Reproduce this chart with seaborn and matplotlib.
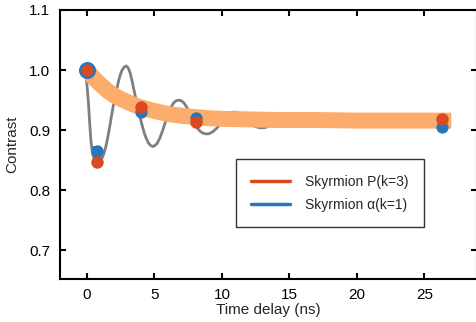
import matplotlib
matplotlib.use("Agg")
import matplotlib.pyplot as plt
from matplotlib.lines import Line2D
import seaborn as sns
import pandas as pd

# ---- data ----
fit_t = [-0.2, -0.1, 0.0, 0.1, 0.2, 0.3, 0.4, 0.5, 0.65, 0.8, 0.95, 1.1, 1.25, 1.4,
         1.55, 1.7, 1.85, 2.0, 2.15, 2.3, 2.45, 2.6, 2.75, 2.9, 3.05, 3.2, 3.35, 3.5,
         3.65, 3.8, 3.95, 4.1, 4.25, 4.4, 4.55, 4.7, 4.85, 5.0, 5.2, 5.4, 5.6, 5.8,
         6.0, 6.2, 6.4, 6.6, 6.8, 7.0, 7.2, 7.4, 7.6, 7.8, 8.0, 8.2, 8.4, 8.6, 8.8,
         9.0, 9.3, 9.6, 9.9, 10.2, 10.5, 10.8, 11.0, 11.3, 11.6, 11.9, 12.2, 12.5,
         12.8, 13.1, 13.4, 13.7, 14.0, 14.5, 15.0, 15.5, 16.0]
fit_v = [1.000, 0.995, 0.975, 0.948, 0.912, 0.880, 0.862, 0.855, 0.850, 0.848, 0.849,
         0.853, 0.861, 0.873, 0.889, 0.908, 0.928, 0.947, 0.963, 0.978, 0.991, 1.000,
         1.005, 1.007, 1.004, 0.995, 0.981, 0.965, 0.949, 0.934, 0.920, 0.907, 0.895,
         0.886, 0.879, 0.875, 0.873, 0.874, 0.878, 0.887, 0.899, 0.913, 0.926, 0.937,
         0.945, 0.949, 0.950, 0.949, 0.945, 0.938, 0.929, 0.919, 0.910, 0.903, 0.898,
         0.895, 0.894, 0.894, 0.897, 0.903, 0.911, 0.919, 0.926, 0.930, 0.930, 0.927,
         0.922, 0.915, 0.910, 0.906, 0.904, 0.904, 0.906, 0.909, 0.913, 0.919, 0.922,
         0.922, 0.920]

env_t = [0, 0.5, 1, 1.5, 2, 2.5, 3, 3.5, 4, 5, 6, 7, 8, 9, 10, 12, 14, 17, 20, 24, 27]
env_v = [1.000, 0.987, 0.976, 0.966, 0.958, 0.952, 0.947, 0.942, 0.938, 0.932, 0.927,
         0.924, 0.922, 0.920, 0.919, 0.918, 0.917, 0.917, 0.916, 0.916, 0.916]

blue_t = [0.0, 0.74, 4.0, 8.1, 26.3]
blue_v = [1.000, 0.866, 0.931, 0.921, 0.905]
blue_err = [0.003, 0.006, 0.004, 0.004, 0.004]

red_t = [0.0, 0.74, 4.0, 8.1, 26.3]
red_v = [1.000, 0.847, 0.938, 0.913, 0.919]
red_err = [0.003, 0.007, 0.006, 0.005, 0.005]

legend_labels = ["Skyrmion P(k=3)", "Skyrmion \u03b1(k=1)"]
x_ticks = [0, 5, 10, 15, 20, 25]
y_ticks = [0.7, 0.8, 0.9, 1.0, 1.1]

# ---- style ----
RED = "#DA4A21"
BLUE = "#2477BD"
ORANGE = "#FDAD6B"
GRAY = "#7F7F7F"

sns.set_theme(style="ticks")
plt.rcParams["font.family"] = ["Liberation Sans", "DejaVu Sans"]

fig = plt.figure(figsize=(4.76, 3.22), dpi=100)
ax = fig.add_axes([60 / 476, (322 - 279.3) / 322, (477 - 60) / 476, (279.3 - 10) / 322])

fit_df = pd.DataFrame({"t": fit_t, "v": fit_v})
env_df = pd.DataFrame({"t": env_t, "v": env_v})

sns.lineplot(data=fit_df, x="t", y="v", ax=ax, color=GRAY, lw=2.0, sort=False, zorder=2)
sns.lineplot(data=env_df, x="t", y="v", ax=ax, color=ORANGE, lw=11.5, sort=False,
             zorder=3, solid_capstyle="butt")

# error bars
ax.errorbar(blue_t, blue_v, yerr=blue_err, fmt="none", ecolor=BLUE, elinewidth=1.5,
            capsize=3, capthick=1.5, zorder=4)
ax.errorbar(red_t, red_v, yerr=red_err, fmt="none", ecolor=RED, elinewidth=1.5,
            capsize=3, capthick=1.5, zorder=6)

blue_df = pd.DataFrame({"t": blue_t, "v": blue_v})
red_df = pd.DataFrame({"t": red_t, "v": red_v})
sns.scatterplot(data=blue_df.iloc[:1], x="t", y="v", ax=ax, color=BLUE, s=150,
                edgecolor=BLUE, linewidth=0, zorder=5)
sns.scatterplot(data=blue_df.iloc[1:], x="t", y="v", ax=ax, color=BLUE, s=78,
                edgecolor=BLUE, linewidth=0, zorder=5)
sns.scatterplot(data=red_df, x="t", y="v", ax=ax, color=RED, s=80,
                edgecolor=RED, linewidth=0, zorder=7)

ax.set_xlim(-2.0, 28.9)
ax.set_ylim(0.652, 1.1)
ax.set_xticks(x_ticks)
ax.set_yticks(y_ticks)
ax.set_xticklabels([str(v) for v in x_ticks])
ax.set_yticklabels([f"{v:.1f}" for v in y_ticks])

for s in ax.spines.values():
    s.set_visible(True)
    s.set_linewidth(1.5)
    s.set_color("black")
ax.tick_params(direction="in", length=4.5, width=1.5, colors="black",
               labelsize=11, top=True, right=True, pad=6)
ax.tick_params(axis="y", pad=7)

ax.set_xlabel("Time delay (ns)", fontsize=11, labelpad=1)
ax.set_ylabel("Contrast", fontsize=11, labelpad=7)

handles = [Line2D([0], [0], color=RED, lw=2.5), Line2D([0], [0], color=BLUE, lw=2.5)]
leg = ax.legend(handles, legend_labels, loc="upper left",
                bbox_to_anchor=(236 / 476, 1 - 159.3 / 322),
                bbox_transform=fig.transFigure, fontsize=10, frameon=True,
                fancybox=False, framealpha=1, edgecolor="#333333",
                handlelength=2.8, handletextpad=1.1, borderpad=1.1,
                labelspacing=0.65, borderaxespad=0)
leg.get_frame().set_linewidth(1.0)

fig.savefig("out.png", dpi=100)
